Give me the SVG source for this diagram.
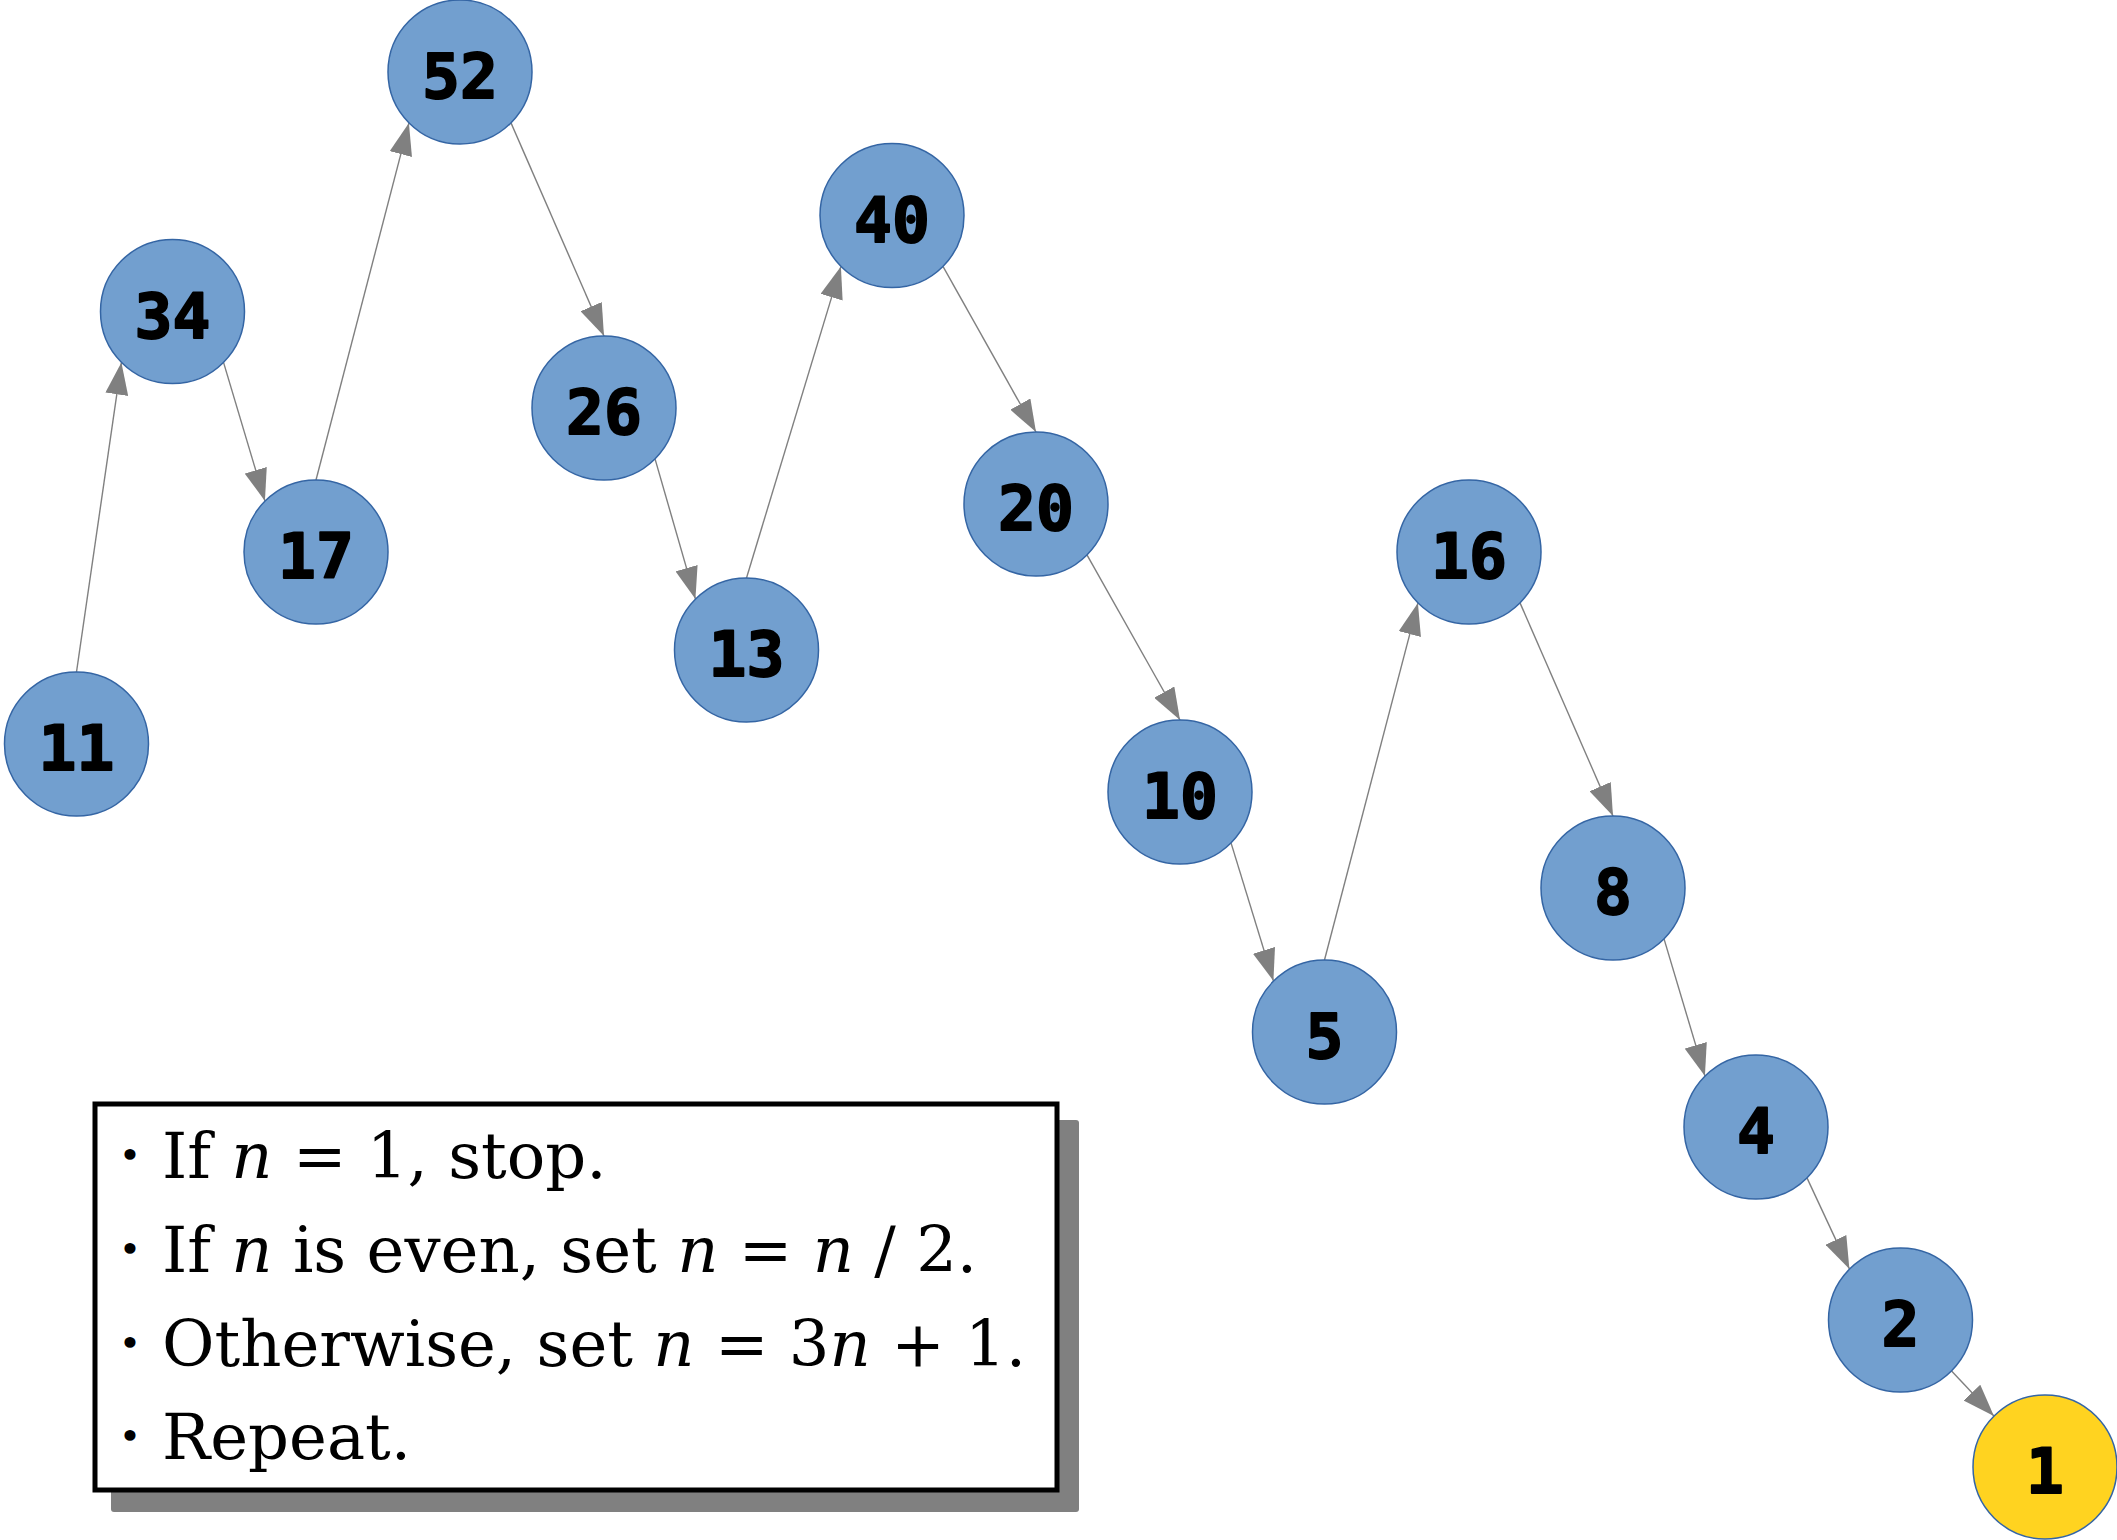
<svg xmlns="http://www.w3.org/2000/svg" width="2117" height="1540" viewBox="0 0 2117 1540">
<style>
.node circle{fill:#729fcf;stroke:#3465a4;stroke-width:1.5}
.node.final circle{fill:#ffd320}
.node text{font-family:"DejaVu Sans Mono",monospace;font-weight:bold;font-size:63px;fill:#000;stroke:#000;stroke-width:1.8;stroke-linejoin:round;text-anchor:middle}
.edges line{stroke:#808080;stroke-width:1.4}
.legend text{font-family:"DejaVu Serif",serif;font-size:64px;fill:#000}
.legend .bul{font-size:38px}
.i{font-style:italic}
</style>
<defs>
<marker id="arr" viewBox="0 0 32 23" refX="32" refY="11.5" markerWidth="32" markerHeight="23" markerUnits="userSpaceOnUse" orient="auto">
<path d="M0,0 L32,11.5 L0,23 z" fill="#808080"/>
</marker>
</defs>
<rect width="2117" height="1540" fill="#fff"/>
<g class="edges">
<line x1="76.5" y1="672" x2="121.4" y2="362.6" marker-end="url(#arr)"/>
<line x1="223.6" y1="362.6" x2="264.9" y2="500.9" marker-end="url(#arr)"/>
<line x1="316" y1="480" x2="408.9" y2="123.1" marker-end="url(#arr)"/>
<line x1="511.1" y1="123.1" x2="604" y2="336" marker-end="url(#arr)"/>
<line x1="655.1" y1="459.1" x2="695.4" y2="598.9" marker-end="url(#arr)"/>
<line x1="746.5" y1="578" x2="840.9" y2="266.6" marker-end="url(#arr)"/>
<line x1="943.1" y1="266.6" x2="1036" y2="432" marker-end="url(#arr)"/>
<line x1="1087.1" y1="555.1" x2="1180" y2="720" marker-end="url(#arr)"/>
<line x1="1231.1" y1="843.1" x2="1273.4" y2="980.9" marker-end="url(#arr)"/>
<line x1="1324.5" y1="960" x2="1417.9" y2="603.1" marker-end="url(#arr)"/>
<line x1="1520.1" y1="603.1" x2="1613" y2="816" marker-end="url(#arr)"/>
<line x1="1664.1" y1="939.1" x2="1704.9" y2="1075.9" marker-end="url(#arr)"/>
<line x1="1807.1" y1="1178.1" x2="1849.4" y2="1268.9" marker-end="url(#arr)"/>
<line x1="1951.6" y1="1371.1" x2="1993.9" y2="1415.9" marker-end="url(#arr)"/>
</g>
<g id="n11" class="node"><circle cx="76.5" cy="744" r="72"/><text x="76.5" y="770">11</text></g>
<g id="n34" class="node"><circle cx="172.5" cy="311.5" r="72"/><text x="172.5" y="337.5">34</text></g>
<g id="n17" class="node"><circle cx="316" cy="552" r="72"/><text x="316" y="578">17</text></g>
<g id="n52" class="node"><circle cx="460" cy="72" r="72"/><text x="460" y="98">52</text></g>
<g id="n26" class="node"><circle cx="604" cy="408" r="72"/><text x="604" y="434">26</text></g>
<g id="n13" class="node"><circle cx="746.5" cy="650" r="72"/><text x="746.5" y="676">13</text></g>
<g id="n40" class="node"><circle cx="892" cy="215.5" r="72"/><text x="892" y="241.5">40</text></g>
<g id="n20" class="node"><circle cx="1036" cy="504" r="72"/><text x="1036" y="530">20</text></g>
<g id="n10" class="node"><circle cx="1180" cy="792" r="72"/><text x="1180" y="818">10</text></g>
<g id="n5" class="node"><circle cx="1324.5" cy="1032" r="72"/><text x="1324.5" y="1058">5</text></g>
<g id="n16" class="node"><circle cx="1469" cy="552" r="72"/><text x="1469" y="578">16</text></g>
<g id="n8" class="node"><circle cx="1613" cy="888" r="72"/><text x="1613" y="914">8</text></g>
<g id="n4" class="node"><circle cx="1756" cy="1127" r="72"/><text x="1756" y="1153">4</text></g>
<g id="n2" class="node"><circle cx="1900.5" cy="1320" r="72"/><text x="1900.5" y="1346">2</text></g>
<g id="n1" class="node final"><circle cx="2045" cy="1467" r="72"/><text x="2045" y="1493">1</text></g>
<g id="legend" class="legend">
<rect x="111" y="1120" width="968" height="392" rx="3" fill="#808080"/>
<rect x="95" y="1104" width="962" height="386" fill="#fff" stroke="#000" stroke-width="5"/>
<text class="bul" x="130" y="1168" text-anchor="middle">•</text>
<text x="162" y="1178">If <tspan class="i">n</tspan> = 1, stop.</text>
<text class="bul" x="130" y="1262" text-anchor="middle">•</text>
<text x="162" y="1272">If <tspan class="i">n</tspan> is even, set <tspan class="i">n</tspan> = <tspan class="i">n</tspan> / 2.</text>
<text class="bul" x="130" y="1356" text-anchor="middle">•</text>
<text x="162" y="1366">Otherwise, set <tspan class="i">n</tspan> = 3<tspan class="i">n</tspan> + 1.</text>
<text class="bul" x="130" y="1449" text-anchor="middle">•</text>
<text x="162" y="1459">Repeat.</text>
</g>
</svg>
